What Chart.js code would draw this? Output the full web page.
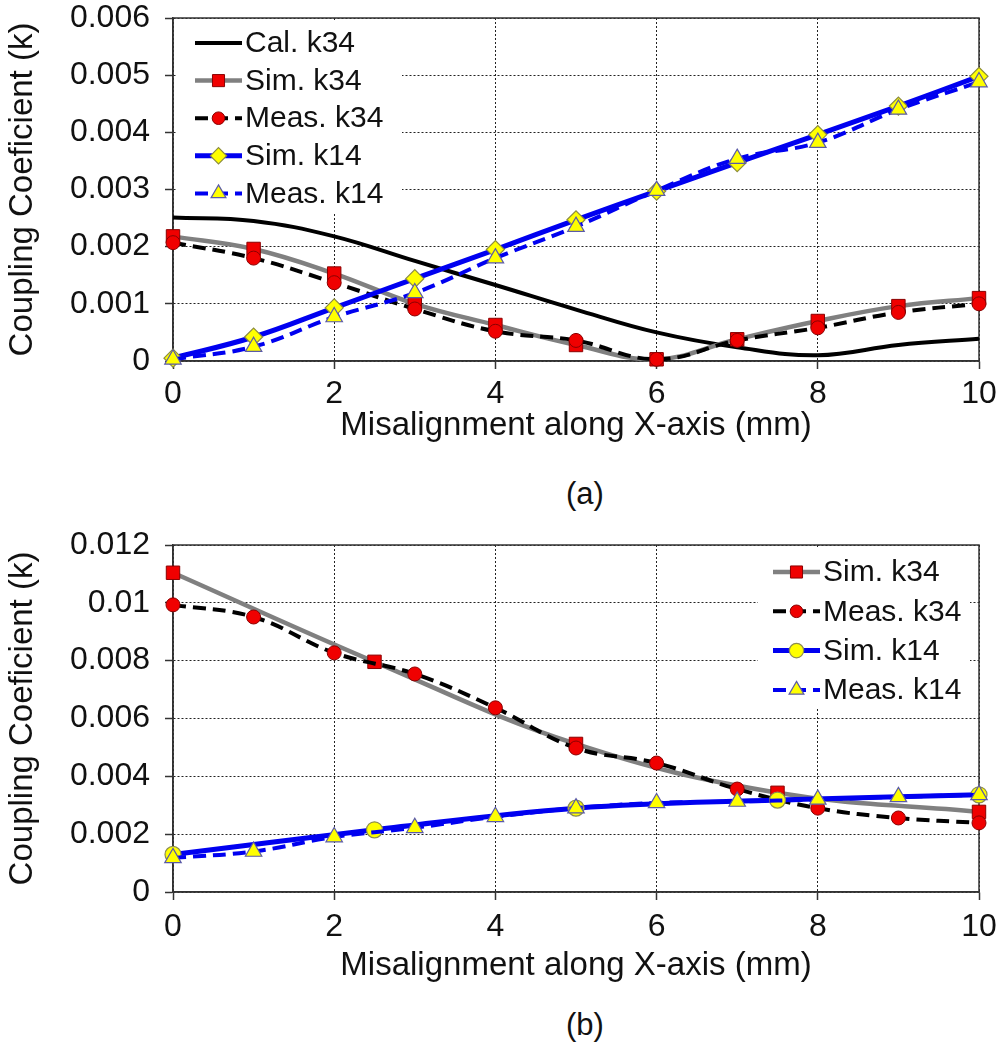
<!DOCTYPE html>
<html>
<head>
<meta charset="utf-8">
<title>Coupling coefficient vs misalignment</title>
<script src="https://cdn.jsdelivr.net/npm/chart.js"></script>
<style>
  body { margin: 0; background: #fff; }
  .wrap { position: relative; width: 1008px; height: 1046px; font-family: "Liberation Sans", Arial, sans-serif; }
  canvas { position: absolute; left: 0; }
  #chartA { top: 0; }
  #chartB { top: 520px; }
  .cap { position: absolute; width: 100px; text-align: center; font-size: 31px; color: #111; }
</style>
</head>
<body>
<div class="wrap">
  <canvas id="chartA" width="1008" height="470" style="width:1008px;height:470px"></canvas>
  <canvas id="chartB" width="1008" height="470" style="width:1008px;height:470px"></canvas>
  <div class="cap" style="left:535px; top:476px;">(a)</div>
  <div class="cap" style="left:535px; top:1007px;">(b)</div>
</div>

<script>
  // ---- data ----
  const xTicks = ['0', '2', '4', '6', '8', '10'];
  const yTicksA = ['0', '0.001', '0.002', '0.003', '0.004', '0.005', '0.006'];
  const yTicksB = ['0', '0.002', '0.004', '0.006', '0.008', '0.01', '0.012'];

  // (a)
  const xA = [0, 1, 2, 3, 4, 5, 6, 7, 8, 9, 10];
  const calK34A  = [0.00251, 0.00245, 0.00218, 0.00175, 0.00133, 0.0009, 0.0005, 0.00024, 0.0001, 0.00028, 0.00039];
  const simK34A  = [0.00218, 0.00196, 0.00153, 0.00100, 0.00063, 0.00028, 0.00003, 0.00038, 0.0007, 0.00096, 0.0011];
  const measK34A = [0.00207, 0.0018, 0.00137, 0.00091, 0.00052, 0.00036, 0.00003, 0.00036, 0.00058, 0.00085, 0.001];
  const simK14A  = [0.00005, 0.00042, 0.00093, 0.00144, 0.00195, 0.00247, 0.00297, 0.00347, 0.00396, 0.00446, 0.00498];
  const measK14A = [0.00003, 0.00025, 0.00077, 0.00119, 0.0018, 0.00235, 0.00298, 0.00354, 0.00382, 0.0044, 0.00488];

  // (b)
  const xSimB = [0, 2.5, 5, 7.5, 10];
  const simK34B = [0.01104, 0.00796, 0.00512, 0.00343, 0.00277];
  const simK14B = [0.0013, 0.00215, 0.0029, 0.00318, 0.00336];
  const xMeasB = [0, 1, 2, 3, 4, 5, 6, 7, 8, 9, 10];
  const measK34B = [0.00993, 0.00951, 0.00827, 0.00754, 0.00637, 0.00498, 0.00446, 0.00356, 0.0029, 0.00256, 0.00239];
  const measK14B = [0.00118, 0.0014, 0.0019, 0.00222, 0.0026, 0.0029, 0.00308, 0.00313, 0.0032, 0.00329, 0.00336];

  const pts = (xs, ys) => xs.map((x, i) => ({ x: x, y: ys[i] }));

  Chart.defaults.font.family = '"Liberation Sans", Arial, sans-serif';
  Chart.defaults.color = '#111';

  // series styles
  const calStyle = { borderColor: '#000', borderWidth: 4, pointRadius: 0 };
  const simK34Style = { borderColor: '#808080', borderWidth: 4.5, pointStyle: 'rect', pointRadius: 9.5,
    pointBackgroundColor: '#f00000', pointBorderColor: '#8a0000', pointBorderWidth: 1 };
  const measK34Style = { borderColor: '#000', borderWidth: 4, borderDash: [13, 7], pointStyle: 'circle', pointRadius: 7,
    pointBackgroundColor: '#f00000', pointBorderColor: '#8a0000', pointBorderWidth: 1 };
  const simK14Style = { borderColor: '#0000f0', borderWidth: 5, pointStyle: 'rectRot', pointRadius: 9,
    pointBackgroundColor: '#ffff00', pointBorderColor: '#8c8c40', pointBorderWidth: 1.2 };
  const measK14Style = { borderColor: '#0000f0', borderWidth: 4, borderDash: [13, 7], pointStyle: 'triangle', pointRadius: 9.5,
    pointBackgroundColor: '#ffff00', pointBorderColor: '#5a5aa8', pointBorderWidth: 1.2 };
  const simK14BStyle = Object.assign({}, simK14Style, { pointStyle: 'circle', pointRadius: 8, pointBorderColor: '#8c8c50' });

  function drawMarker(ctx, style, r, x, y) {
    ctx.beginPath();
    if (style === 'rect') {
      const s = Math.SQRT1_2 * r;
      ctx.rect(x - s, y - s, 2 * s, 2 * s);
    } else if (style === 'rectRot') {
      ctx.moveTo(x - r, y); ctx.lineTo(x, y - r); ctx.lineTo(x + r, y); ctx.lineTo(x, y + r); ctx.closePath();
    } else if (style === 'triangle') {
      ctx.moveTo(x, y - r);
      ctx.lineTo(x + Math.sin(2 * Math.PI / 3) * r, y - Math.cos(2 * Math.PI / 3) * r);
      ctx.lineTo(x + Math.sin(4 * Math.PI / 3) * r, y - Math.cos(4 * Math.PI / 3) * r);
      ctx.closePath();
    } else {
      ctx.arc(x, y, r, 0, Math.PI * 2);
    }
    ctx.fill();
    ctx.stroke();
  }

  // frame round the plot + legend drawn inside the plot area
  const framePlugin = {
    id: 'framePlugin',
    beforeDatasetsDraw(chart, args, opts) {
      const { ctx, chartArea: a } = chart;
      ctx.save();
      ctx.fillStyle = '#fff';
      ctx.fillRect(opts.box[0], opts.box[1], opts.box[2], opts.box[3]);
      ctx.strokeStyle = '#333';
      ctx.lineWidth = 1.5;
      ctx.strokeRect(a.left, a.top, a.right - a.left, a.bottom - a.top);
      ctx.restore();
    },
    afterDatasetsDraw(chart, args, opts) {
      const ctx = chart.ctx;
      ctx.save();
      ctx.font = '30px "Liberation Sans", Arial, sans-serif';
      ctx.textBaseline = 'middle';
      chart.data.datasets.forEach((ds, i) => {
        const y = opts.y + i * opts.rowH;
        const x0 = opts.x, x1 = opts.x + opts.lineW;
        ctx.beginPath();
        ctx.setLineDash(ds.borderDash || []);
        ctx.lineWidth = ds.borderWidth;
        ctx.strokeStyle = ds.borderColor;
        ctx.moveTo(x0, y); ctx.lineTo(x1, y);
        ctx.stroke();
        ctx.setLineDash([]);
        if (ds.pointRadius > 0) {
          ctx.fillStyle = ds.pointBackgroundColor;
          ctx.strokeStyle = ds.pointBorderColor;
          ctx.lineWidth = ds.pointBorderWidth;
          drawMarker(ctx, ds.pointStyle, ds.pointRadius * 0.9, (x0 + x1) / 2, y);
        }
        ctx.fillStyle = '#111';
        ctx.fillText(ds.label, x1 + 3, y + 1);
      });
      ctx.restore();
    }
  };

  function axes(yMax, yStep, yLabels, xHeight, tickPad, titlePad) {
    return {
      x: {
        type: 'linear', min: 0, max: 10,
        afterFit: s => { s.height = xHeight; },
        ticks: { stepSize: 2, padding: tickPad, maxRotation: 0, font: { size: 32 },
          callback: (v, i) => xTicks[i] },
        grid: { color: '#222', lineWidth: 1, tickLength: 8, tickColor: '#333', tickWidth: 1.5 },
        border: { dash: [2, 2], color: '#333', width: 1.5 },
        title: { display: true, text: 'Misalignment along X-axis (mm)', font: { size: 33 },
          padding: { top: 0, bottom: titlePad } }
      },
      y: {
        min: 0, max: yMax,
        // fixed axis width, and no extra room above the top tick label
        afterFit: s => { s.width = 173; s.paddingTop = 0; s.paddingBottom = 0; },
        ticks: { stepSize: yStep, padding: 15, font: { size: 32 },
          callback: (v, i) => yLabels[i] },
        grid: { color: '#222', lineWidth: 1, tickLength: 8, tickColor: '#333', tickWidth: 1.5 },
        border: { dash: [2, 2], color: '#333', width: 1.5 },
        title: { display: true, text: 'Coupling Coeficient (k)', font: { size: 33 },
          padding: { top: 3, bottom: 0 } }
      }
    };
  }

  const common = (cfg) => Object.assign({
    type: 'line',
    plugins: [framePlugin]
  }, cfg);

  new Chart(document.getElementById('chartA'), common({
    data: {
      datasets: [
        Object.assign({ label: 'Cal. k34', data: pts(xA, calK34A), order: 5 }, calStyle),
        Object.assign({ label: 'Sim. k34', data: pts(xA, simK34A), order: 4 }, simK34Style),
        Object.assign({ label: 'Meas. k34', data: pts(xA, measK34A), order: 3 }, measK34Style),
        Object.assign({ label: 'Sim. k14', data: pts(xA, simK14A), order: 2 }, simK14Style),
        Object.assign({ label: 'Meas. k14', data: pts(xA, measK14A), order: 1 }, measK14Style)
      ]
    },
    options: {
      responsive: false, animation: false, devicePixelRatio: 1,
      layout: { padding: { left: 0, right: 29, top: 18, bottom: 0 } },
      elements: { line: { tension: 0.4, fill: false } },
      datasets: { line: { clip: false } },
      plugins: {
        legend: { display: false }, tooltip: { enabled: false },
        framePlugin: { box: [176, 20, 226, 192], x: 195, y: 43, rowH: 37.6, lineW: 47 }
      },
      scales: axes(0.006, 0.001, yTicksA, 109, 6, 24)
    }
  }));

  new Chart(document.getElementById('chartB'), common({
    data: {
      datasets: [
        Object.assign({ label: 'Sim. k34', data: pts(xSimB, simK34B), order: 4 }, simK34Style),
        Object.assign({ label: 'Meas. k34', data: pts(xMeasB, measK34B), order: 3 }, measK34Style),
        Object.assign({ label: 'Sim. k14', data: pts(xSimB, simK14B), order: 2 }, simK14BStyle),
        Object.assign({ label: 'Meas. k14', data: pts(xMeasB, measK14B), order: 1 }, measK14Style)
      ]
    },
    options: {
      responsive: false, animation: false, devicePixelRatio: 1,
      layout: { padding: { left: 0, right: 29, top: 25, bottom: 0 } },
      elements: { line: { tension: 0.4, fill: false } },
      datasets: { line: { clip: false } },
      plugins: {
        legend: { display: false }, tooltip: { enabled: false },
        framePlugin: { box: [758, 27, 212, 162], x: 773, y: 52, rowH: 39.3, lineW: 47 }
      },
      scales: axes(0.012, 0.002, yTicksB, 98, 8, 4)
    }
  }));
</script>
</body>
</html>
